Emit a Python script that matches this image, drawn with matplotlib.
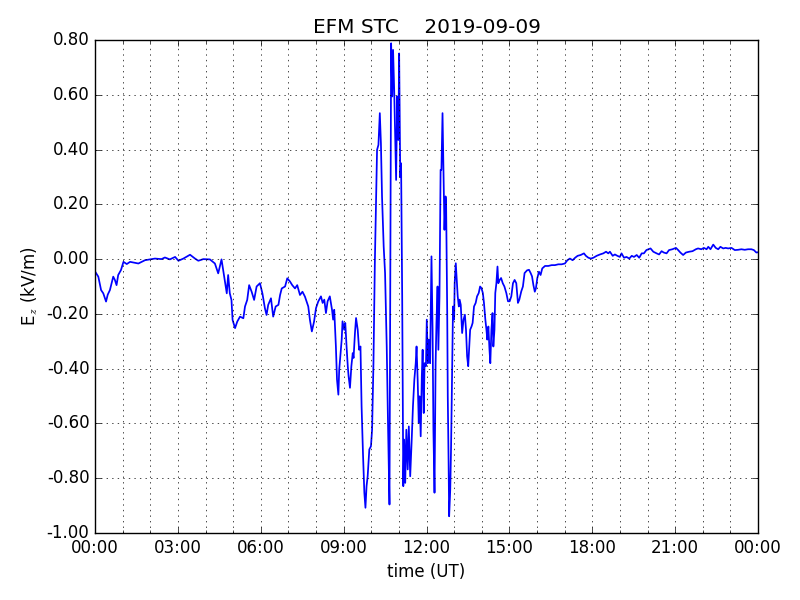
import datetime as dt
import matplotlib
matplotlib.use("Agg")
import matplotlib.pyplot as plt
import matplotlib.dates as mdates
from matplotlib.ticker import FormatStrFormatter

# time in hours after 00:00 UT, field in kV/m
hours = [0.00, 0.12, 0.22, 0.30, 0.40, 0.46, 0.54, 0.66, 0.72, 0.78, 0.84, 0.94, 1.03, 1.15, 1.27, 1.57,
         1.81, 2.17, 2.41, 2.53, 2.71, 2.90, 3.02, 3.20, 3.44, 3.62, 3.74, 3.92, 4.16, 4.34,
         4.46, 4.58, 4.64, 4.71, 4.77, 4.82, 4.88, 4.94, 4.98, 5.07, 5.15, 5.25, 5.37, 5.43, 5.51,
         5.58, 5.67, 5.76, 5.85, 5.97, 6.06, 6.15, 6.21, 6.27, 6.37, 6.45, 6.54, 6.64, 6.70, 6.76,
         6.88, 6.96, 7.06, 7.14, 7.24, 7.32, 7.42, 7.51, 7.60, 7.72, 7.78, 7.85, 7.93, 8.00, 8.08,
         8.18, 8.24, 8.30, 8.36, 8.42, 8.50, 8.58, 8.62, 8.66, 8.72, 8.76, 8.81, 8.84, 8.88, 8.93,
         8.96, 9.02, 9.06, 9.11, 9.15, 9.18, 9.23, 9.28, 9.33, 9.36, 9.41, 9.45, 9.51, 9.56, 9.61,
         9.65, 9.70, 9.75, 9.79, 9.83, 9.87, 9.93, 9.99, 10.03, 10.08, 10.13, 10.18, 10.21, 10.26,
         10.31, 10.35, 10.39, 10.45, 10.50, 10.56, 10.61, 10.66, 10.70, 10.72, 10.76, 10.79, 10.83,
         10.87, 10.90, 10.94, 10.98, 11.01, 11.05, 11.08, 11.12, 11.16, 11.19, 11.23, 11.27, 11.32,
         11.36, 11.41, 11.46, 11.51, 11.56, 11.61, 11.64, 11.68, 11.72, 11.75, 11.79, 11.83, 11.86,
         11.90, 11.93, 11.98, 12.01, 12.05, 12.08, 12.13, 12.18, 12.22, 12.25, 12.29, 12.33, 12.36,
         12.40, 12.43, 12.47, 12.51, 12.54, 12.58, 12.61, 12.65, 12.69, 12.71, 12.75, 12.77, 12.80,
         12.82, 12.86, 12.89, 12.93, 12.96, 13.00, 13.02, 13.06, 13.10, 13.13, 13.17, 13.20, 13.24,
         13.29, 13.34, 13.39, 13.43, 13.47, 13.51, 13.55, 13.58, 13.63, 13.67, 13.72, 13.78, 13.83,
         13.89, 13.94, 13.99, 14.04, 14.08, 14.13, 14.17, 14.20, 14.24, 14.28, 14.31, 14.35, 14.39,
         14.42, 14.46, 14.49, 14.53, 14.57, 14.60, 14.65, 14.70, 14.76, 14.82, 14.89, 14.95, 15.01,
         15.07, 15.13, 15.19, 15.25, 15.31, 15.36, 15.43, 15.49, 15.55, 15.64, 15.71, 15.77, 15.82,
         15.87, 15.92, 15.96, 16.01, 16.07, 16.13, 16.19, 16.29, 16.41, 16.53, 16.65, 16.77, 16.89,
         17.01, 17.10, 17.19, 17.29, 17.38, 17.47, 17.58, 17.70, 17.77, 17.86, 17.95, 18.04, 18.16,
         18.28, 18.40, 18.50, 18.58, 18.64, 18.74, 18.82, 18.91, 19.00, 19.06, 19.15, 19.24, 19.34,
         19.43, 19.51, 19.61, 19.70, 19.79, 19.87, 19.96, 20.11, 20.21, 20.33, 20.42, 20.51, 20.59,
         20.69, 20.78, 20.90, 21.03, 21.11, 21.19, 21.29, 21.39, 21.51, 21.63, 21.75, 21.83, 21.95,
         22.04, 22.14, 22.20, 22.28, 22.38, 22.47, 22.56, 22.64, 22.74, 22.83, 22.92, 23.04, 23.16,
         23.28, 23.40, 23.52, 23.64, 23.76, 23.85, 23.94, 24.00]
ez = [-0.045, -0.064, -0.113, -0.125, -0.155, -0.130, -0.113, -0.064, -0.076, -0.095, -0.058, -0.040,
      -0.010, -0.018, -0.010, -0.016, -0.004, 0.002, 0.000, 0.006, -0.001, 0.008, -0.006, 0.002,
      0.016, 0.002, -0.006, 0.000, -0.001, -0.016,
      -0.052, -0.001, -0.040, -0.088, -0.125, -0.058, -0.125, -0.149, -0.222, -0.252, -0.228, -0.210,
      -0.216, -0.173, -0.149, -0.095, -0.119, -0.149, -0.100, -0.088, -0.125, -0.179, -0.204, -0.167,
      -0.143, -0.210, -0.173, -0.167, -0.131, -0.107, -0.100, -0.070, -0.082, -0.095, -0.107, -0.095,
      -0.131, -0.119, -0.137, -0.173, -0.222, -0.264, -0.228, -0.179, -0.155,
      -0.136, -0.160, -0.148, -0.197, -0.154, -0.136, -0.185, -0.221, -0.185, -0.319, -0.440, -0.495,
      -0.404, -0.355, -0.294, -0.227, -0.258, -0.233, -0.325, -0.391, -0.428, -0.470, -0.391, -0.343,
      -0.361, -0.270, -0.215, -0.258, -0.331, -0.319, -0.537, -0.708, -0.853, -0.908, -0.829, -0.793,
      -0.695, -0.683, -0.623, -0.380, -0.015, 0.253, 0.399, 0.417, 0.533, 0.423, 0.229, 0.046, -0.051,
      -0.319, -0.623, -0.896, 0.229, 0.788, 0.594, 0.764, 0.618, 0.423, 0.289, 0.594, 0.435, 0.751,
      0.301, 0.350, -0.136, -0.829, -0.659, -0.817, -0.623, -0.768, -0.611, -0.793, -0.671, -0.537,
      -0.440, -0.380, -0.319, -0.440, -0.598, -0.501, -0.647, -0.428, -0.331, -0.562, -0.380,
      -0.391, -0.221, -0.380, -0.294, -0.380, 0.010, -0.258, -0.623, -0.853, -0.380, -0.233, -0.100,
      -0.331, -0.136, 0.326, 0.326, 0.533, 0.350, 0.107, 0.229, 0.204, -0.197, -0.501, -0.744, -0.939,
      -0.841, -0.683, -0.380, -0.173, -0.221, -0.088, -0.015, -0.088, -0.136, -0.173, -0.148, -0.167,
      -0.270, -0.221, -0.203, -0.258, -0.355, -0.391, -0.319, -0.258, -0.246, -0.233, -0.173, -0.160,
      -0.136, -0.124, -0.100, -0.106, -0.124, -0.160, -0.221, -0.258, -0.294, -0.246, -0.331, -0.380,
      -0.258, -0.197, -0.319, -0.258, -0.124, -0.088, -0.027, -0.088, -0.076, -0.069, -0.088, -0.100,
      -0.124, -0.154, -0.154, -0.136, -0.088, -0.076, -0.088, -0.160, -0.148, -0.118, -0.100, -0.051,
      -0.041, -0.039, -0.051, -0.063,
      -0.095, -0.119, -0.107, -0.070, -0.046, -0.058, -0.034, -0.025, -0.025, -0.022, -0.022, -0.019,
      -0.019, -0.016, -0.004, 0.002, -0.004, 0.005, 0.012, 0.015, 0.021, 0.012, 0.005, 0.002, 0.005,
      0.012, 0.017, 0.021, 0.027, 0.021, 0.027, 0.012, 0.017, 0.012, 0.008, 0.021, 0.005, 0.008,
      0.002, 0.012, 0.008, 0.015, 0.005, 0.021, 0.021, 0.033, 0.039, 0.027, 0.021, 0.017, 0.029,
      0.024, 0.021, 0.033, 0.036, 0.041, 0.033, 0.024, 0.015, 0.024, 0.027, 0.029, 0.036, 0.039,
      0.036, 0.041, 0.036, 0.045, 0.036, 0.053, 0.041, 0.036, 0.045, 0.039, 0.041, 0.039, 0.041,
      0.033, 0.034, 0.036, 0.034, 0.036, 0.036, 0.033, 0.024, 0.025]

day = dt.datetime(2019, 9, 9)
times = [day + dt.timedelta(hours=h) for h in hours]

plt.style.use("classic")
plt.rcParams["axes.unicode_minus"] = False

fig = plt.figure(figsize=(8, 6), dpi=100)
ax = fig.add_axes([0.11875, 0.1117, 0.82875, 0.8216])
ax.plot(times, ez, "b-", linewidth=1.25)

ax.set_xlim(day, day + dt.timedelta(days=1))
ax.set_ylim(-1.0, 0.8)
ax.xaxis.set_major_locator(mdates.HourLocator(byhour=range(0, 24, 3)))
ax.xaxis.set_minor_locator(mdates.HourLocator())
ax.xaxis.set_major_formatter(mdates.DateFormatter("%H:%M"))
ax.yaxis.set_major_formatter(FormatStrFormatter("%.2f"))
ax.grid(True, which="both")

ax.set_title("EFM STC    2019-09-09")
ax.set_xlabel("time (UT)")
ax.set_ylabel("E$_z$ (kV/m)")

fig.savefig("out.png", dpi=100)
